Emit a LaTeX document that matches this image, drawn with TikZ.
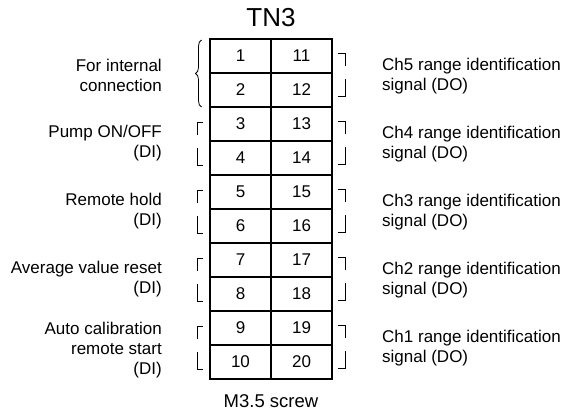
\documentclass[tikz,border=0pt]{standalone}
\usepackage{fontspec}
\setmainfont{Liberation Sans}
\usetikzlibrary{decorations.pathreplacing}
\tikzset{
	cell/.style={draw, line width=1.1pt, minimum width=61pt, minimum height=34pt, inner sep=0pt, font=\fontsize{17}{20}\selectfont},
	lbl/.style={font=\fontsize{17}{20}\selectfont, inner sep=0pt},
	brk/.style={line width=0.8pt},
}
\begin{document}
\begin{tikzpicture}[x=1pt,y=-1pt]
		\useasboundingbox (0,0) rectangle (568,415);
		\node[lbl, font=\fontsize{26}{30}\selectfont, anchor=base] (title) at (271,27) {TN3};
		%klemmen
		\foreach \i in {1,...,10}{
			\pgfmathtruncatemacro{\j}{\i+10}
			\node[cell] (c\i) at (240.5,{56+34*(\i-1)}) {\i};
			\node[cell] (c\j) at (301.5,{56+34*(\i-1)}) {\j};
		}
		\foreach \i in {2,4,6,8}{
			\pgfmathtruncatemacro{\j}{\i+10}
			\draw[line width=1.7pt] (c\i.south west) -- (c\j.south east);
		}
		\draw[line width=1.3pt] (c1.north west) rectangle (c20.south east);
		%klammern
		\draw[brk, decorate, decoration={brace, amplitude=6pt}] (201.5,107) -- (201.5,40);
		\foreach \k in {1,...,4}{
			\draw[brk] (203,{54+68*\k}) -- (197,{54+68*\k}) -- (197,{67+68*\k});
			\draw[brk] (197,{80+68*\k}) -- (197,{97+68*\k}) -- (203,{97+68*\k});
		}
		\foreach \k in {0,...,4}{
			\draw[brk] (338,{53+68*\k}) -- (345.5,{53+68*\k}) -- (345.5,{66+68*\k});
			\draw[brk] (345.5,{79+68*\k}) -- (345.5,{96+68*\k}) -- (338,{96+68*\k});
		}
		%links
		\node[lbl, anchor=east, align=right] (l1) at (162,75) {For internal\\connection};
		\node[lbl, anchor=east, align=right] (l2) at (162,143) {Pump ON/OFF\\(DI)};
		\node[lbl, anchor=east, align=right] (l3) at (162,211) {Remote hold\\(DI)};
		\node[lbl, anchor=east, align=right] (l4) at (162,279) {Average value reset\\(DI)};
		\node[lbl, anchor=east, align=right] (l5) at (162,350) {Auto calibration\\remote start\\(DI)};
		%rechts
		\node[lbl, anchor=west, align=left] (r5) at (382,76) {Ch5 range identification\\signal (DO)};
		\node[lbl, anchor=west, align=left] (r4) at (382,144) {Ch4 range identification\\signal (DO)};
		\node[lbl, anchor=west, align=left] (r3) at (382,212) {Ch3 range identification\\signal (DO)};
		\node[lbl, anchor=west, align=left] (r2) at (382,280) {Ch2 range identification\\signal (DO)};
		\node[lbl, anchor=west, align=left] (r1) at (382,348) {Ch1 range identification\\signal (DO)};
		%
		\node[lbl, font=\fontsize{18.5}{22}\selectfont, anchor=base] (screw) at (271,407) {M3.5 screw};
	\end{tikzpicture}
\end{document}
